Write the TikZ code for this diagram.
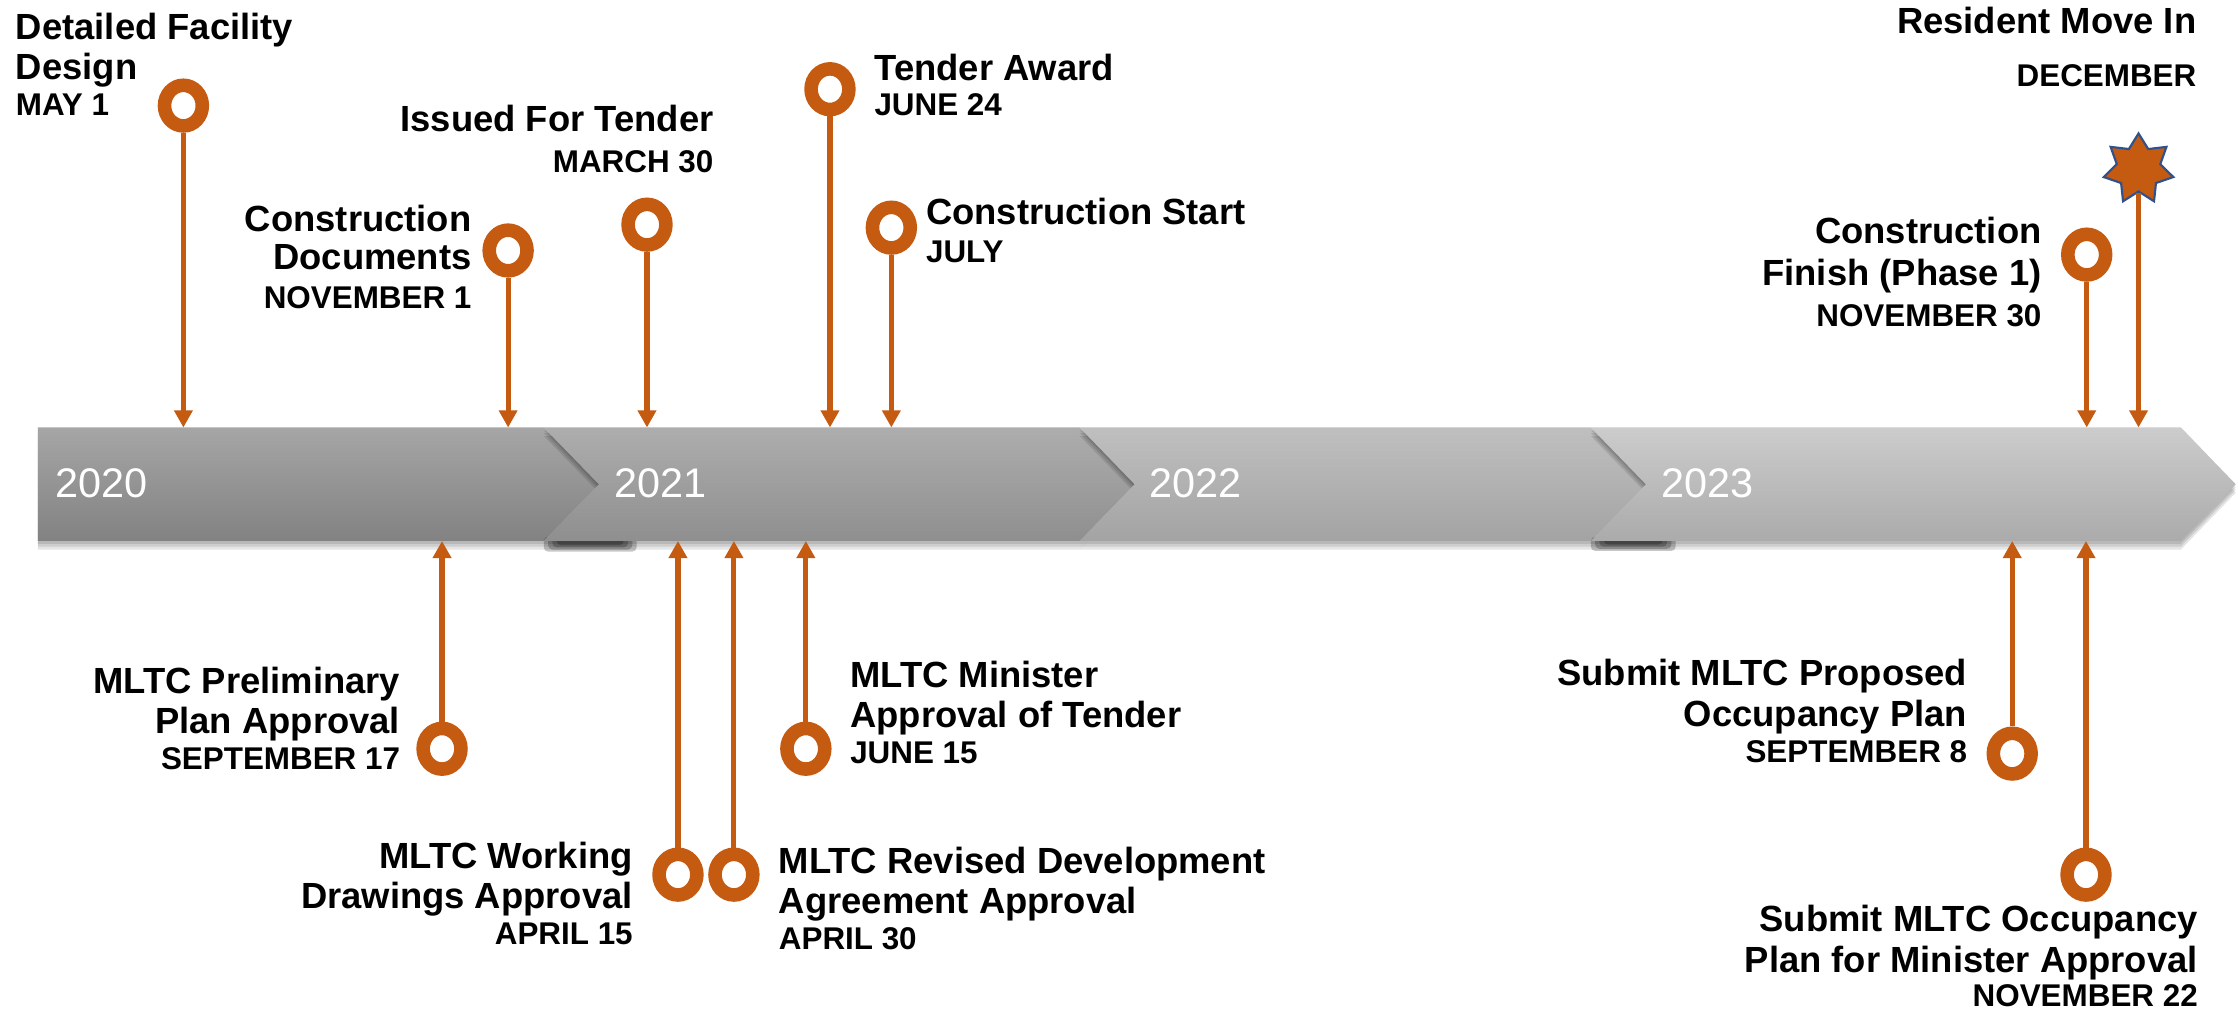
\documentclass[tikz,border=0pt]{standalone}
\usepackage{fontspec}
\setmainfont{Liberation Sans}
\usetikzlibrary{arrows.meta,shapes.geometric}
\definecolor{orng}{HTML}{C55A11}
\definecolor{starblue}{HTML}{2F528F}
\begin{document}
\begin{tikzpicture}[x=1pt,y=-1pt,
  lbl/.style={font=\fontsize{25.5}{28}\selectfont\bfseries, inner sep=0pt},
  dt/.style={font=\fontsize{22}{25}\selectfont\bfseries, inner sep=0pt},
  yr/.style={font=\fontsize{29}{32}\selectfont, text=white, inner sep=0pt, anchor=base west},
  ring/.style={ellipse, draw=orng, line width=9.5pt, minimum width=26.5pt, minimum height=28.5pt, inner sep=0pt},
  stem/.style={draw=orng, line width=3.6pt, -{Triangle[width=12.5pt,length=12pt]}},
  shad/.style={fill=black, opacity=0.10},
  blob/.style={fill=black, opacity=0.22, rounded corners=3pt}
]
\useasboundingbox (0,0) rectangle (1568,708.3);
\fill[white] (0,0) rectangle (1568,708.3);

% ---- band shadows and segments ----
\def\T{299.5}\def\B{379}\def\M{339.3}
\foreach \d in {2,4,6}{
  \fill[shad] (26.5,\T+\d) -- (381,\T+\d) -- (419.7,\M+\d) -- (381,\B+\d) -- (26.5,\B+\d) -- cycle;
}
\shade[top color=black!35, bottom color=black!49] (26.5,\T) -- (381,\T) -- (419.7,\M) -- (381,\B) -- (26.5,\B) -- cycle;
\foreach \d in {2,4,6}{
  \fill[shad] (381,\T+\d) -- (756.5,\T+\d) -- (795,\M+\d) -- (756.5,\B+\d) -- (381,\B+\d) -- (419.7,\M+\d) -- cycle;
}
\foreach \w/\h in {0/7.5,3/6,6/4.5,9/3}{
  \fill[blob] (381+\w,\B-3) rectangle (446-\w,\B+\h);
}
\shade[top color=black!32, bottom color=black!44] (381,\T) -- (756.5,\T) -- (795,\M) -- (756.5,\B) -- (381,\B) -- (419.7,\M) -- cycle;
\foreach \d in {2,4,6}{
  \fill[shad] (756.5,\T+\d) -- (1114.6,\T+\d) -- (1153.2,\M+\d) -- (1114.6,\B+\d) -- (756.5,\B+\d) -- (795,\M+\d) -- cycle;
}
\shade[top color=black!25, bottom color=black!36] (756.5,\T) -- (1114.6,\T) -- (1153.2,\M) -- (1114.6,\B) -- (756.5,\B) -- (795,\M) -- cycle;
\foreach \d in {2,4,6}{
  \fill[shad] (1114.6,\T+\d) -- (1528,\T+\d) -- (1566.4,\M+\d) -- (1528,\B+\d) -- (1114.6,\B+\d) -- (1153.2,\M+\d) -- cycle;
}
\foreach \w/\h in {0/7,3/5.5,6/4,9/2.5}{
  \fill[blob] (1114.6+\w,\B-3) rectangle (1174-\w,\B+\h);
}
\shade[top color=black!20, bottom color=black!33] (1114.6,\T) -- (1528,\T) -- (1566.4,\M) -- (1528,\B) -- (1114.6,\B) -- (1153.2,\M) -- cycle;

\node[yr] (y20) at (39,348.7) {2020};
\node[yr] (y21) at (430,348.7) {2021};
\node[yr] (y22) at (805,348.7) {2022};
\node[yr] (y23) at (1164,348.7) {2023};

% ---- band edge end points ----
\coordinate (e1) at (128.5,\T);
\coordinate (e2) at (356,\T);
\coordinate (e3) at (453.3,\T);
\coordinate (e4) at (581.5,\T);
\coordinate (e5) at (624.5,\T);
\coordinate (e6) at (1462,\T);
\coordinate (e7) at (1498.3,\T);
\coordinate (e8) at (309.7,\B);
\coordinate (e9) at (475,\B);
\coordinate (e10) at (514.2,\B);
\coordinate (e11) at (564.6,\B);
\coordinate (e12) at (1409.8,\B);
\coordinate (e13) at (1461.5,\B);

% ---- markers ----
\node[ring] (r1) at (128.5,74) {};
\node[ring] (r2) at (356,175.5) {};
\node[ring] (r3) at (453.3,157.4) {};
\node[ring] (r4) at (581.5,62.5) {};
\node[ring] (r5) at (624.5,159.5) {};
\node[ring] (r6) at (1462,178.4) {};
\node[star, star points=7, star point ratio=1.6, minimum size=50pt, inner sep=0pt,
      fill=orng, draw=starblue, line width=1.5pt] (s7) at (1498.3,118.5) {};
\node[ring] (r8) at (309.7,524.6) {};
\node[ring] (r9) at (475,612.8) {};
\node[ring] (r10) at (514.2,612.8) {};
\node[ring] (r11) at (564.6,524.6) {};
\node[ring] (r12) at (1409.8,528) {};
\node[ring] (r13) at (1461.5,612.8) {};

\draw[stem] (r1.south) -- (e1);
\draw[stem] (r2.south) -- (e2);
\draw[stem] (r3.south) -- (e3);
\draw[stem] (r4.south) -- (e4);
\draw[stem] (r5.south) -- (e5);
\draw[stem] (r6.south) -- (e6);
\draw[stem] (s7.south) -- (e7);
\draw[stem] (r8.north) -- (e8);
\draw[stem] (r9.north) -- (e9);
\draw[stem] (r10.north) -- (e10);
\draw[stem] (r11.north) -- (e11);
\draw[stem] (r12.north) -- (e12);
\draw[stem] (r13.north) -- (e13);

% ---- labels ----
\node[lbl, anchor=base west] (t1a) at (11,27.6) {Detailed Facility};
\node[lbl, anchor=base west] (t1b) at (11,55.5) {Design};
\node[dt, anchor=base west] (t1c) at (11,81) {MAY 1};

\node[lbl, anchor=base east] (t2a) at (330.5,162.5) {Construction};
\node[lbl, anchor=base east] (t2b) at (330.5,189) {Documents};
\node[dt, anchor=base east] (t2c) at (330.5,216) {NOVEMBER 1};

\node[lbl, anchor=base east] (t3a) at (500,92.3) {Issued For Tender};
\node[dt, anchor=base east] (t3b) at (500,121) {MARCH 30};

\node[lbl, anchor=base west] (t4a) at (612.5,56.5) {Tender Award};
\node[dt, anchor=base west] (t4b) at (612.5,80.6) {JUNE 24};

\node[lbl, anchor=base west] (t5a) at (648.6,157.6) {Construction Start};
\node[dt, anchor=base west] (t5b) at (648.6,184) {JULY};

\node[lbl, anchor=base east] (t6a) at (1430.5,170.5) {Construction};
\node[lbl, anchor=base east] (t6b) at (1430.5,200) {Finish (Phase 1)};
\node[dt, anchor=base east] (t6c) at (1430.5,229) {NOVEMBER 30};

\node[lbl, anchor=base east] (t7a) at (1539,23.4) {Resident Move In};
\node[dt, anchor=base east] (t7b) at (1539,60.7) {DECEMBER};

\node[lbl, anchor=base east] (t8a) at (280.5,485.8) {MLTC Preliminary};
\node[lbl, anchor=base east] (t8b) at (280.5,513.8) {Plan Approval};
\node[dt, anchor=base east] (t8c) at (280.5,538.8) {SEPTEMBER 17};

\node[lbl, anchor=base east] (t9a) at (443.5,608.4) {MLTC Working};
\node[lbl, anchor=base east] (t9b) at (443.5,636.4) {Drawings Approval};
\node[dt, anchor=base east] (t9c) at (443.5,661.4) {APRIL 15};

\node[lbl, anchor=base west] (t10a) at (545.5,611.9) {MLTC Revised Development};
\node[lbl, anchor=base west] (t10b) at (545.5,640) {Agreement Approval};
\node[dt, anchor=base west] (t10c) at (545.5,665) {APRIL 30};

\node[lbl, anchor=base west] (t11a) at (595.5,481.8) {MLTC Minister};
\node[lbl, anchor=base west] (t11b) at (595.5,509.6) {Approval of Tender};
\node[dt, anchor=base west] (t11c) at (595.5,534.8) {JUNE 15};

\node[lbl, anchor=base east] (t12a) at (1378.4,480.6) {Submit MLTC Proposed};
\node[lbl, anchor=base east] (t12b) at (1378.4,509) {Occupancy Plan};
\node[dt, anchor=base east] (t12c) at (1378.4,534.4) {SEPTEMBER 8};

\node[lbl, anchor=base east] (t13a) at (1540,652.8) {Submit MLTC Occupancy};
\node[lbl, anchor=base east] (t13b) at (1540,681.5) {Plan for Minister Approval};
\node[dt, anchor=base east] (t13c) at (1540,705.3) {NOVEMBER 22};
\end{tikzpicture}
\end{document}
